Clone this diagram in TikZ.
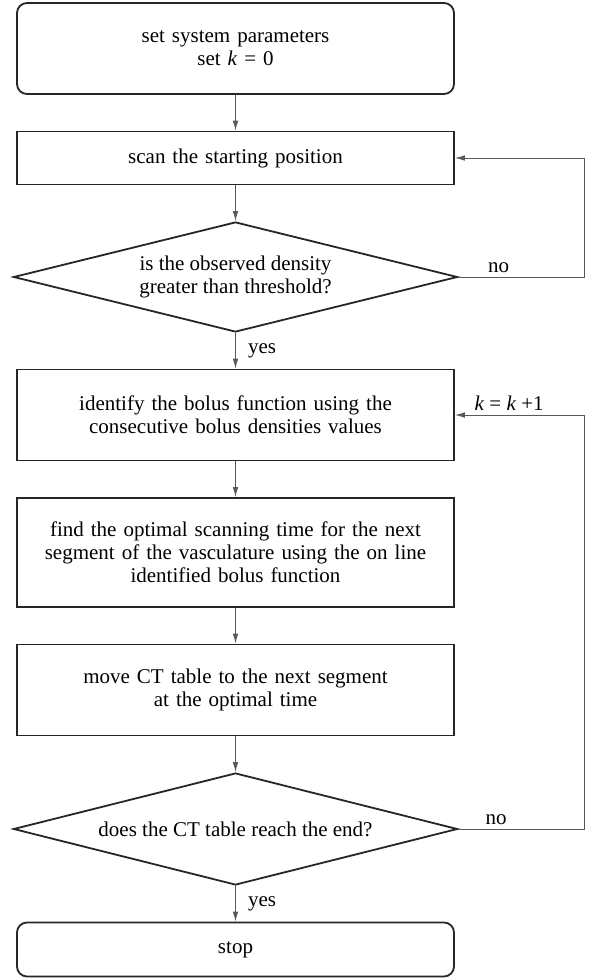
\documentclass[tikz,border=0pt]{standalone}
\usepackage{fontspec}
\setmainfont{Liberation Serif}
\usepackage{tikz}
\usetikzlibrary{positioning, arrows.meta, shapes.geometric}

\begin{document}
\begin{tikzpicture}[x=0.5pt, y=-0.5pt, font=\fontsize{10.5}{11.5}\selectfont,
  node distance=17.85pt,
  box/.style={draw=black!85, line width=0.9pt, text width=214pt, align=center,
              inner sep=2pt, minimum width=218.5pt},
  termbox/.style={box, rounded corners=5pt},
  decision/.style={diamond, aspect=4, draw=black!85, line width=0.9pt, align=center,
                   inner sep=0pt, minimum width=222pt, minimum height=55pt},
  line/.style={draw=black!65, line width=0.5pt, -{Latex[length=5pt,width=2.8pt]}},
  lbl/.style={inner sep=2pt}]

  \useasboundingbox (0,0) rectangle (593,979);

  \node[termbox, minimum height=45.5pt] (start) at (235.5,48.5)
    {set system parameters\\set \textit{k} = 0};
  \node[box, minimum height=26.5pt, below=of start] (scan) {scan the starting position};
  \node[decision, below=of scan] (dec1) {is the observed density\\greater than threshold?};
  \node[box, minimum height=45.5pt, below=of dec1] (bolus)
    {identify the bolus function using the\\consecutive bolus densities values};
  \node[box, minimum height=54.5pt, below=of bolus] (optim)
    {find the optimal scanning time for the next\\segment of the vasculature using the on line\\identified bolus function};
  \node[box, minimum height=45.5pt, below=of optim] (move)
    {move CT table to the next segment\\at the optimal time};
  \node[decision, minimum height=56pt, below=of move] (dec2) {does the CT table reach the end?};
  \node[termbox, minimum height=27pt, below=of dec2] (stop) {stop};

  % right-hand return line
  \coordinate (rx) at (584,0);

  \draw[line] (start) -- (scan);
  \draw[line] (scan) -- (dec1);
  \draw[line] (dec1) -- node[lbl, midway, right=4pt] {yes} (bolus);
  \draw[line] (bolus) -- (optim);
  \draw[line] (optim) -- (move);
  \draw[line] (move) -- (dec2);
  \draw[line] (dec2) -- node[lbl, midway, right=4pt] {yes} (stop);

  \draw[line] (dec1.east) -- node[lbl, above, pos=.32] {no} (dec1.east -| rx) |- (scan.east);
  \draw[line] (dec2.east) -- node[lbl, above, pos=.3] {no} (dec2.east -| rx)
    |- node[lbl, above, pos=.79] {\textit{k} = \textit{k} +1} (bolus.east);
\end{tikzpicture}
\end{document}
